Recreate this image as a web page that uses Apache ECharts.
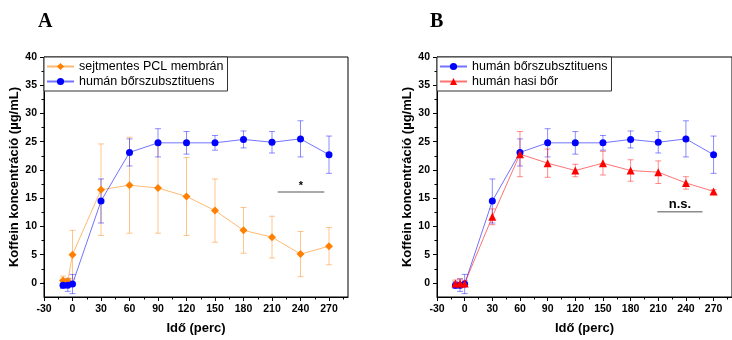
<!DOCTYPE html>
<html><head><meta charset="utf-8">
<script src="https://cdn.jsdelivr.net/npm/echarts@6/dist/echarts.min.js"></script>
<style>html,body{margin:0;padding:0;background:#fff}#c{width:732px;height:340px}</style>
</head><body><div id="c"></div>
<script>
// ---- data ----
const times = [-10, -5, 0, 30, 60, 90, 120, 150, 180, 210, 240, 270];
const pclMean = [0.4, 0.3, 5.0, 16.5, 17.3, 16.8, 15.3, 12.8, 9.3, 8.1, 5.1, 6.5];
const pclErr  = [0.8, 0.5, 4.3, 8.1, 8.5, 8.0, 6.9, 5.6, 4.05, 3.7, 4.0, 3.3];
const bsMean  = [-0.4, -0.4, -0.2, 14.5, 23.1, 24.8, 24.8, 24.8, 25.4, 24.9, 25.5, 22.7];
const bsErr   = [0.6, 1.1, 1.7, 3.9, 2.4, 2.5, 2.0, 1.3, 1.5, 1.9, 3.2, 3.3];
const skinMean = [-0.1, -0.1, -0.1, 11.7, 22.8, 21.2, 19.9, 21.2, 19.9, 19.6, 17.7, 16.2];
const skinErr  = [0.6, 0.8, 0.5, 1.4, 4.0, 2.5, 1.1, 2.1, 1.9, 2.0, 1.1, 0.3];
const xTicks = [-30, 0, 30, 60, 90, 120, 150, 180, 210, 240, 270];
const yTicks = [0, 5, 10, 15, 20, 25, 30, 35, 40];
const nameA1 = 'sejtmentes PCL membrán';
const nameBS = 'humán bőrszubsztituens';
const nameSkin = 'humán hasi bőr';
const sigA = {x1: 216, x2: 265, y: 16.1, text: '*', ty: 16.2};
const sigB = {x1: 209, x2: 258, y: 12.6, text: 'n.s.', ty: 12.75};
const yName = 'Koffein koncentráció (µg/mL)';
const xName = 'Idő (perc)';

const ORANGE = '#FF8000', BLUE = '#0000FF', RED = '#FF0000';
const FONT = 'Liberation Sans, Arial, sans-serif';

function pts(m){ return times.map((t,i)=>[t, m[i]]); }
function errPts(m,e){ return times.map((t,i)=>[t, m[i], e[i]]); }

function errSeries(m, e, color, idx){
  return {
    type:'custom', name:'err'+idx+color, xAxisIndex:idx, yAxisIndex:idx, z:1,
    data: errPts(m,e), encode:{x:0,y:1},
    renderItem:function(params, api){
      const x=api.value(0), y=api.value(1), er=api.value(2);
      const t=api.coord([x,y+er]), b=api.coord([x,y-er]);
      const w=3;
      const st={stroke:color, lineWidth:1, opacity:0.45};
      return {type:'group', children:[
        {type:'line', shape:{x1:t[0],y1:t[1],x2:b[0],y2:b[1]}, style:st},
        {type:'line', shape:{x1:t[0]-w,y1:t[1],x2:t[0]+w,y2:t[1]}, style:st},
        {type:'line', shape:{x1:b[0]-w,y1:b[1],x2:b[0]+w,y2:b[1]}, style:st}
      ]};
    }
  };
}
function lineSeries(name, m, color, symbol, size, idx){
  return {
    type:'line', name:name, xAxisIndex:idx, yAxisIndex:idx, z:3,
    data: pts(m), symbol:symbol, symbolSize:size,
    itemStyle:{color:color},
    lineStyle:{color:color, width:1, opacity:0.55},
    emphasis:{disabled:true}, animation:false
  };
}
function sigSeries(s, idx, fs){
  return {
    type:'custom', name:'sig'+idx, xAxisIndex:idx, yAxisIndex:idx, z:2,
    data:[[s.x1, s.y, s.x2, s.ty]],
    renderItem:function(params, api){
      const a=api.coord([api.value(0), api.value(1)]);
      const b=api.coord([api.value(2), api.value(1)]);
      const c=api.coord([(api.value(0)+api.value(2))/2, api.value(3)]);
      return {type:'group', children:[
        {type:'line', shape:{x1:a[0],y1:a[1],x2:b[0],y2:b[1]}, style:{stroke:'#8c8c8c', lineWidth:1.5}},
        {type:'text', x:c[0], y:c[1], style:{text:s.text, fill:'#000', font:'bold '+fs+'px '+FONT, textAlign:'center', textVerticalAlign:'bottom'}}
      ]};
    }
  };
}

function xAx(idx){
  return {
    type:'value', gridIndex:idx, min:-30, max:290, interval:30,
    name:xName, nameLocation:'middle', nameGap:25,
    nameTextStyle:{fontFamily:FONT, fontWeight:'bold', fontSize:13, color:'#000'},
    axisLine:{onZero:false, lineStyle:{color:'#000', width:1}},
    axisTick:{show:true, inside:false, length:4, lineStyle:{color:'#000'}, customValues:xTicks},
    minorTick:{show:true, splitNumber:2, length:2.5, lineStyle:{color:'#000'}},
    axisLabel:{fontFamily:FONT, fontWeight:'bold', fontSize:10.5, color:'#000', margin:7, customValues:xTicks},
    splitLine:{show:false}
  };
}
function yAx(idx){
  return {
    type:'value', gridIndex:idx, min:-2.5, max:40, minInterval:5, maxInterval:5,
    name:yName, nameLocation:'middle', nameGap:23,
    nameTextStyle:{fontFamily:FONT, fontWeight:'bold', fontSize:13, color:'#000'},
    axisLine:{onZero:false, lineStyle:{color:'#000', width:1}},
    axisTick:{show:true, inside:false, length:4, lineStyle:{color:'#000'}, customValues:yTicks},
    minorTick:{show:true, splitNumber:2, length:2.5, lineStyle:{color:'#000'}},
    axisLabel:{fontFamily:FONT, fontWeight:'bold', fontSize:10.5, color:'#000', margin:7, customValues:yTicks},
    splitLine:{show:false}
  };
}
function legend(left, names){
  return {
    left:left, top:57, orient:'vertical', data:names,
    backgroundColor:'#fff', borderColor:'#333', borderWidth:1, borderRadius:0,
    padding:[3,4,3,2], itemGap:2, itemWidth:27, itemHeight:9,
    textStyle:{fontFamily:FONT, fontSize:12.5, color:'#000'},
    selectedMode:false
  };
}

const chart = echarts.init(document.getElementById('c'), null, {renderer:'canvas'});
chart.setOption({
  animation:false,
  backgroundColor:'#fff',
  title:[
    {text:'A', left:33, top:7, textStyle:{fontFamily:'Liberation Serif, Times New Roman, serif', fontWeight:'bold', fontSize:20, color:'#000'}},
    {text:'B', left:425, top:7, textStyle:{fontFamily:'Liberation Serif, Times New Roman, serif', fontWeight:'bold', fontSize:20, color:'#000'}}
  ],
  grid:[
    {left:44, top:57, width:304, height:244, show:true, borderColor:'#000', borderWidth:1, backgroundColor:'transparent'},
    {left:437, top:57, width:304, height:244, show:true, borderColor:'#000', borderWidth:1, backgroundColor:'transparent'}
  ],
  xAxis:[xAx(0), xAx(1)],
  yAxis:[yAx(0), yAx(1)],
  legend:[legend(44, [nameA1, nameBS]), legend(437, [nameBS, nameSkin])],
  series:[
    errSeries(pclMean, pclErr, ORANGE, 0),
    errSeries(bsMean, bsErr, BLUE, 0),
    lineSeries(nameA1, pclMean, ORANGE, 'diamond', 8, 0),
    lineSeries(nameBS, bsMean, BLUE, 'circle', 7, 0),
    sigSeries(sigA, 0, 11),
    errSeries(bsMean, bsErr, BLUE, 1),
    errSeries(skinMean, skinErr, RED, 1),
    lineSeries(nameBS, bsMean, BLUE, 'circle', 7, 1),
    lineSeries(nameSkin, skinMean, RED, 'triangle', 8, 1),
    sigSeries(sigB, 1, 13)
  ]
});
</script></body></html>
